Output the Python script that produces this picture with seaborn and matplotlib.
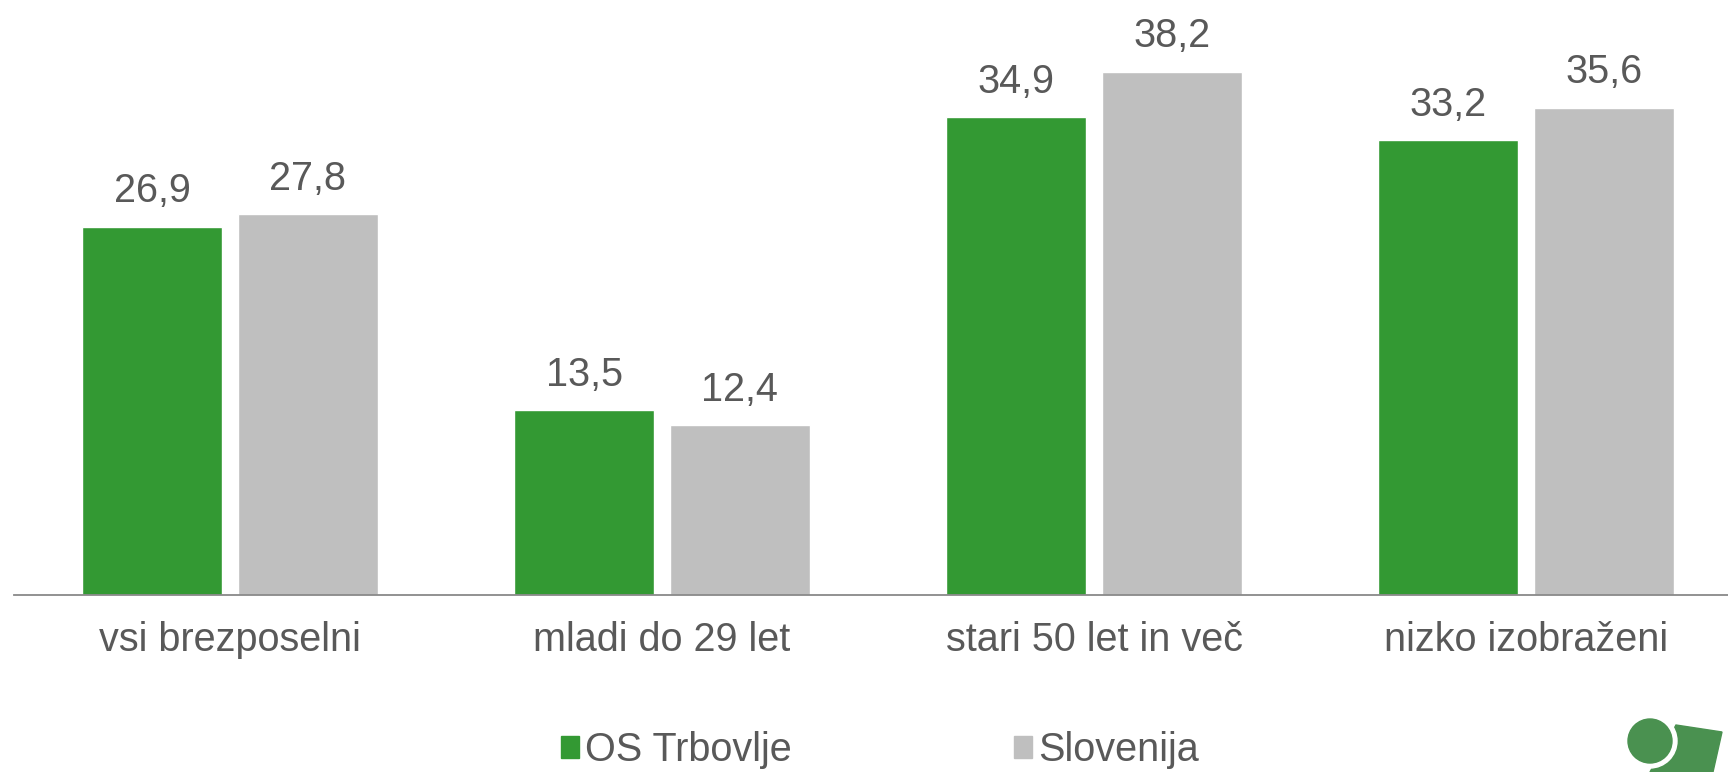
import seaborn as sns
import matplotlib.pyplot as plt
import pandas as pd
import matplotlib
from matplotlib.patches import Circle, Polygon, Patch
matplotlib.use('Agg')

kategorije = ['vsi brezposelni', 'mladi do 29 let', 'stari 50 let in več', 'nizko izobraženi']
serije = ['OS Trbovlje', 'Slovenija']
trbovlje = [26.9, 13.5, 34.9, 33.2]
slovenija = [27.8, 12.4, 38.2, 35.6]
barve = ['#339933', '#BFBFBF']

sns.set_style('white')
plt.rcParams['font.family'] = ['Liberation Sans', 'DejaVu Sans']
siva_besedila = '#595959'
velikost = 28.5

df = pd.DataFrame({
    'kategorija': kategorije * 2,
    'serija': [serije[0]] * 4 + [serije[1]] * 4,
    'delez': trbovlje + slovenija,
})

fig = plt.figure(figsize=(17.28, 7.72), dpi=100)
ax = fig.add_axes([14 / 1728, 177 / 772, 1714 / 1728, 595 / 772])

sns.barplot(data=df, x='kategorija', y='delez', hue='serija', palette=barve,
            width=0.72, gap=0.1, ax=ax, legend=False, errorbar=None,
            saturation=1)

for c in ax.containers:
    ax.bar_label(c, labels=[f'{v:.1f}'.replace('.', ',') for v in c.datavalues],
                 padding=12, fontsize=velikost, color=siva_besedila)

ax.set_xlim(-0.5, 3.467)
ax.set_ylim(0, 43.46)
ax.set_xlabel('')
ax.set_ylabel('')
ax.set_yticks([])
ax.tick_params(axis='x', length=0, pad=19, labelsize=velikost, labelcolor=siva_besedila)
sns.despine(ax=ax, left=True, top=True, right=True)
ax.spines['bottom'].set_color('#898989')
ax.spines['bottom'].set_linewidth(1.3)

# legenda
rocaji = [Patch(color=barve[0], label=serije[0]), Patch(color=barve[1], label=serije[1])]
fig.legend(handles=rocaji, loc='center', bbox_to_anchor=(880 / 1728, 1 - 750 / 772),
           ncol=2, frameon=False, fontsize=velikost, labelcolor=siva_besedila,
           handlelength=0.47, handleheight=0.47, handletextpad=0.15, columnspacing=5.6,
           borderpad=0.2)

# logotip spodaj desno
lax = fig.add_axes([0, 0, 1, 1], zorder=-1)
lax.set_xlim(0, 1728)
lax.set_ylim(772, 0)
lax.axis('off')
zelena = '#4A9150'
lax.add_patch(Polygon([(1676, 725), (1722, 732), (1713, 772), (1650, 772)], color=zelena))
lax.add_patch(Circle((1650, 741), 27, color='white'))
lax.add_patch(Circle((1650, 741), 22, color=zelena))

fig.savefig('out.png', dpi=100)
